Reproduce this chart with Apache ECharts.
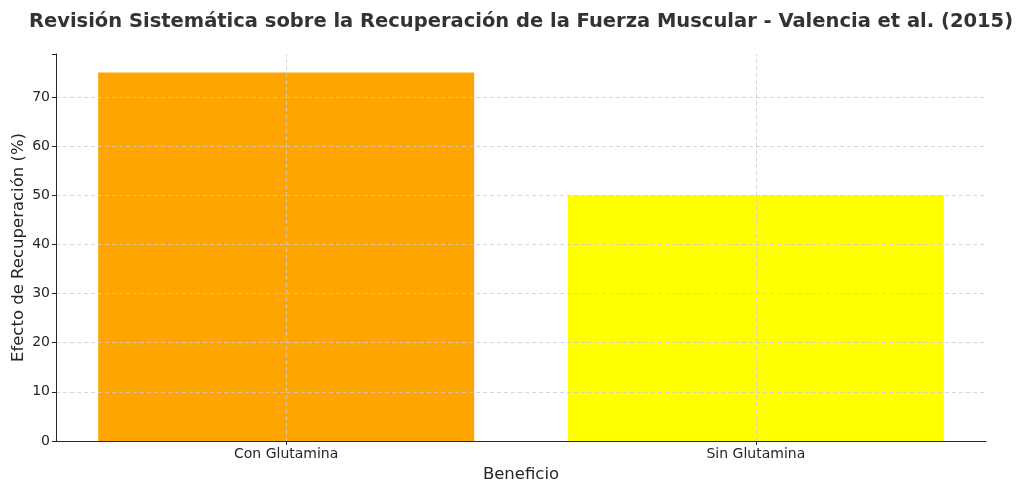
<!DOCTYPE html>
<html>
<head>
<meta charset="utf-8">
<script src="https://cdn.jsdelivr.net/npm/echarts@6/dist/echarts.min.js"></script>
<style>
  html, body { margin: 0; padding: 0; background: #fff; }
  #chart { width: 1024px; height: 493px; }
</style>
</head>
<body>
<div id="chart"></div>
<script>
const categories = ["Con Glutamina", "Sin Glutamina"];
const recovery = [75, 50];
const barColors = ["#ffa500", "#ffff00"];
const yTicks = [0, 10, 20, 30, 40, 50, 60, 70];

const font = "DejaVu Sans";
const gridLine = { color: "#cccccc", type: [4, 3], width: 0.8 };
var myChart = echarts.init(document.getElementById("chart"));

var option = {
    animation: false,
    title: {
        text: "Revisión Sistemática sobre la Recuperación de la Fuerza Muscular - Valencia et al. (2015)",
        left: 516,
        textAlign: "center",
        top: 7,
        textStyle: { fontFamily: font, fontSize: 19.5, fontWeight: "bold", color: "#333" }
    },
    grid: { left: 56, right: 38, top: 54, bottom: 52, outerBoundsMode: "none" },
    xAxis: {
        type: "value",
        min: -0.49,
        max: 1.49,
        z: 11,
        name: "Beneficio",
        nameLocation: "middle",
        nameGap: 25,
        nameMoveOverlap: false,
        nameTextStyle: { fontFamily: font, fontSize: 16.5, color: "#262626" },
        axisLine: { onZero: false, lineStyle: { color: "#262626", width: 1 } },
        axisTick: { customValues: categories.map((c, i) => i), length: 4, lineStyle: { color: "#262626" } },
        axisLabel: {
            customValues: categories.map((c, i) => i),
            formatter: v => categories[Math.round(v)] || "",
            fontFamily: font, fontSize: 14, color: "#262626", margin: 6
        },
        splitLine: { show: false }
    },
    yAxis: {
        type: "value",
        min: 0,
        max: 78.75,
        interval: 10,
        z: 11,
        name: "Efecto de Recuperación (%)",
        nameLocation: "middle",
        nameGap: 29,
        nameMoveOverlap: false,
        nameTextStyle: { fontFamily: font, fontSize: 16.5, color: "#262626" },
        axisLine: { show: true, onZero: false, lineStyle: { color: "#262626", width: 1 } },
        axisTick: { show: true, length: 4, lineStyle: { color: "#262626" } },
        axisLabel: {
            fontFamily: font, fontSize: 14, color: "#262626", margin: 6,
            formatter: v => (yTicks.indexOf(v) >= 0 ? String(v) : "")
        },
        splitLine: { show: false }
    },
    series: [{
        type: "bar",
        barWidth: 376,
        data: categories.map((c, i) => ({
            value: [i, recovery[i]],
            itemStyle: { color: barColors[i] }
        })),
        markLine: {
            silent: true,
            symbol: "none",
            label: { show: false },
            lineStyle: gridLine,
            data: categories.map((c, i) => ({ xAxis: i }))
                .concat(yTicks.filter(t => t > 0).map(t => ({ yAxis: t })))
        }
    }]
};
myChart.setOption(option);
</script>
</body>
</html>
